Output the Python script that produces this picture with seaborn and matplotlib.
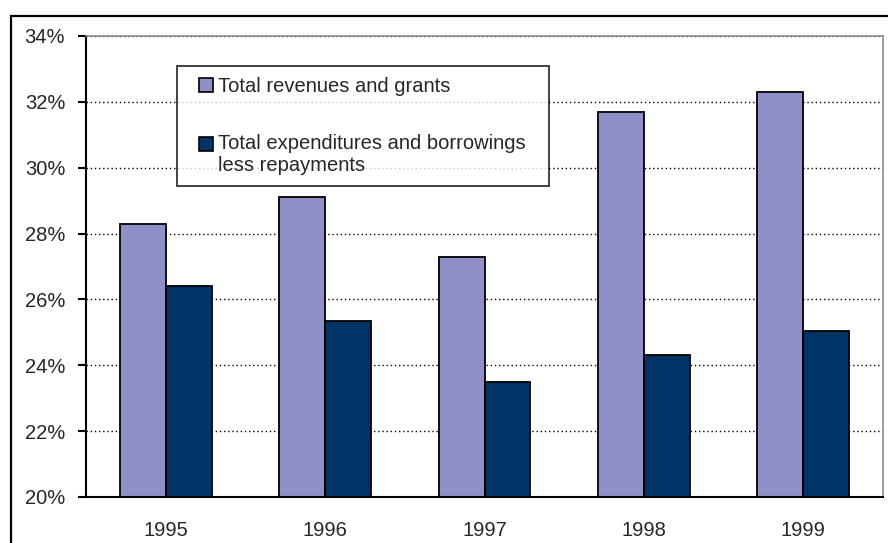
import pandas as pd
import matplotlib.pyplot as plt
import matplotlib.patches as mpatches
from matplotlib.legend_handler import HandlerPatch
from matplotlib.ticker import FuncFormatter, FixedLocator
import seaborn as sns

# values (% of GDP)
years = ["1995", "1996", "1997", "1998", "1999"]
revenues = [28.3, 29.1, 27.3, 31.7, 32.3]
expenditures = [26.4, 25.35, 23.5, 24.3, 25.05]
series_names = ["Total revenues and grants",
                "Total expenditures and borrowings\nless repayments"]
colors = ["#9090C8", "#003366"]

df = pd.DataFrame({
    "year": years * 2,
    "value": revenues + expenditures,
    "series": [series_names[0]] * len(years) + [series_names[1]] * len(years),
})

sns.set_style("white")
plt.rcParams["font.family"] = ["Liberation Sans", "DejaVu Sans"]
FS = 14.5

fig = plt.figure(figsize=(8.88, 5.43), dpi=100)
ax = fig.add_axes([86 / 888, 46 / 543, 797 / 888, 461 / 543])

sns.barplot(data=df, x="year", y="value", hue="series", palette=colors,
            width=0.577, saturation=1, edgecolor="black", linewidth=1.3,
            ax=ax)

ax.set_ylim(20, 34)
ax.set_xlim(-0.5, 4.5)
ax.set_yticks(range(20, 35, 2))
ax.yaxis.set_major_formatter(FuncFormatter(lambda v, p: f"{v:.0f}%"))
ax.set_xlabel("")
ax.set_ylabel("")

ax.set_axisbelow(True)
ax.grid(axis="y", linestyle=(0, (1, 2)), color="black", linewidth=1)
ax.grid(axis="x", visible=False)

ax.xaxis.set_minor_locator(FixedLocator([i - 0.5 for i in range(len(years) + 1)]))
ax.tick_params(axis="x", which="major", length=0, pad=17, labelsize=FS)
ax.tick_params(axis="x", which="minor", length=6, width=1.5, direction="out", color="black")
ax.tick_params(axis="y", length=6, width=1.5, direction="out", color="black",
               labelsize=FS, pad=9, left=True)

for side in ["left", "bottom"]:
    ax.spines[side].set_color("black")
    ax.spines[side].set_linewidth(1.5)
for side in ["top", "right"]:
    ax.spines[side].set_color("#8c8c8c")
    ax.spines[side].set_linewidth(1.2)


# small square at the right end of the handle box
def square(legend, orig_handle, xdescent, ydescent, width, height, fontsize):
    return mpatches.Rectangle((-xdescent + width - height, -ydescent), height, height)


# same, but kept level with the first line of a two-line label
def raised_square(legend, orig_handle, xdescent, ydescent, width, height, fontsize):
    return mpatches.Rectangle((-xdescent + width - height, -ydescent + 0.55 * fontsize),
                              height, height)


handles, labels = ax.get_legend_handles_labels()
leg = ax.legend(handles, labels, loc="upper left", mode="expand",
                bbox_to_anchor=(177 / 888, 1 - 66 / 543, 372 / 888, 0),
                bbox_transform=fig.transFigure, frameon=True, fancybox=False,
                fontsize=FS, handlelength=1.25, handleheight=0.7,
                handletextpad=0.25, labelspacing=1.9, borderpad=0.55,
                borderaxespad=0,
                handler_map={handles[0]: HandlerPatch(patch_func=square),
                             handles[1]: HandlerPatch(patch_func=raised_square)})
leg.get_frame().set_edgecolor("black")
leg.get_frame().set_linewidth(1.3)
for h in leg.legend_handles:
    h.set_edgecolor("black")
    h.set_linewidth(1.2)

# outer chart frame
fig.patches.append(mpatches.Rectangle((11 / 888, -0.2), 1.2, 0.2 + 1 - 16 / 543,
                                      transform=fig.transFigure, fill=False,
                                      edgecolor="black", linewidth=1.6))

fig.savefig("out.png", dpi=100)
